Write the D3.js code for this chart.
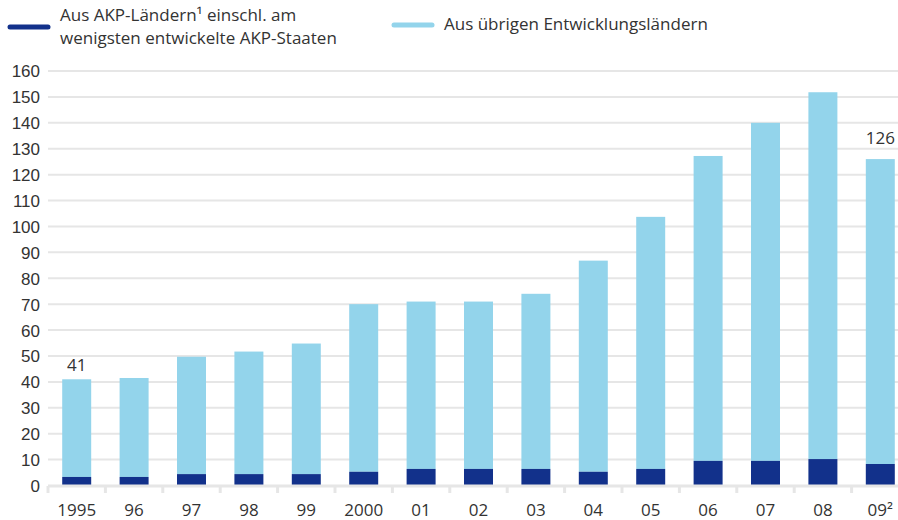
<!DOCTYPE html>
<html lang="de">
<head>
<meta charset="utf-8">
<script src="https://cdn.jsdelivr.net/npm/d3@7"></script>
<style>
  html, body { margin: 0; padding: 0; background: #fff; }
  svg { display: block; font-family: "Open Sans", "Noto Sans", sans-serif; }
</style>
</head>
<body>
<svg id="chart" width="898" height="520"></svg>
<script>
// Jahre (Achsenbeschriftung) und Werte
const years = ["1995", "96", "97", "98", "99", "2000", "01", "02", "03", "04", "05", "06", "07", "08", "09²"];
const akp = [3.3, 3.3, 4.4, 4.4, 4.4, 5.3, 6.4, 6.4, 6.4, 5.3, 6.4, 9.5, 9.5, 10.2, 8.3];
const totals = [41, 41.5, 49.7, 51.7, 54.8, 70, 71, 71, 74, 86.8, 103.7, 127.2, 140, 151.8, 126];
const yTicks = [0, 10, 20, 30, 40, 50, 60, 70, 80, 90, 100, 110, 120, 130, 140, 150, 160];
const labelled = [{ year: "1995", text: "41" }, { year: "09²", text: "126" }];
const seriesNames = ["Aus AKP-Ländern¹ einschl. am", "wenigsten entwickelte AKP-Staaten", "Aus übrigen Entwicklungsländern"];

const colors = { akp: "#12318b", others: "#93d4eb", grid: "#e6e6e6", text: "#333333" };
// Abstand der Wertbeschriftung über der Säule
const labelGap = { "1995": 8, "09²": 15 };

const svg = d3.select("#chart");
const n = years.length;
const step = 57.4;
const x0 = 48;

const x = d3.scaleBand()
  .domain(years)
  .range([x0, x0 + n * step])
  .paddingInner(0.495)
  .paddingOuter(0.2475);

const y = d3.scaleLinear().domain([0, 160]).range([485.5, 71]);

// Gitterlinien
svg.append("g")
  .selectAll("line")
  .data(yTicks.filter(v => v > 0))
  .join("line")
  .attr("x1", x0).attr("x2", 898)
  .attr("y1", d => y(d)).attr("y2", d => y(d))
  .attr("stroke", colors.grid).attr("stroke-width", 2);

// y-Achse
const yAxis = d3.axisLeft(y).tickValues(yTicks).tickSize(0).tickPadding(0);
const gy = svg.append("g").attr("transform", "translate(40,0)").call(yAxis);
gy.select(".domain").remove();
gy.selectAll("text")
  .attr("fill", colors.text)
  .style("font-size", "17px")
  .attr("dy", "0.35em");

// gestapelte Säulen
const stack = years.map((yr, i) => ({ yr, akp: akp[i], total: totals[i] }));
const gb = svg.append("g");
gb.selectAll("rect.others")
  .data(stack)
  .join("rect")
  .attr("class", "others")
  .attr("x", d => x(d.yr))
  .attr("width", x.bandwidth())
  .attr("y", d => y(d.total))
  .attr("height", d => y(d.akp) - y(d.total))
  .attr("fill", colors.others);
gb.selectAll("rect.akp")
  .data(stack)
  .join("rect")
  .attr("class", "akp")
  .attr("x", d => x(d.yr))
  .attr("width", x.bandwidth())
  .attr("y", d => y(d.akp))
  .attr("height", d => y(0) - y(d.akp))
  .attr("fill", colors.akp);

// x-Achse: Grundlinie mit Trennstrichen zwischen den Jahren
const gx = svg.append("g");
gx.append("line")
  .attr("x1", x0).attr("x2", 898)
  .attr("y1", 486).attr("y2", 486)
  .attr("stroke", colors.grid).attr("stroke-width", 3);
gx.selectAll("line.tick")
  .data(d3.range(n + 1))
  .join("line")
  .attr("class", "tick")
  .attr("x1", i => x0 + i * step).attr("x2", i => x0 + i * step)
  .attr("y1", 486).attr("y2", 493)
  .attr("stroke", colors.grid).attr("stroke-width", 3);

gx.selectAll("text.lbl")
  .data(years)
  .join("text")
  .attr("class", "lbl")
  .attr("x", d => x(d) + x.bandwidth() / 2)
  .attr("y", 516)
  .attr("text-anchor", "middle")
  .attr("fill", colors.text)
  .style("font-size", "17px")
  .text(d => d);

// Werte über ausgewählten Säulen
svg.append("g")
  .selectAll("text")
  .data(labelled)
  .join("text")
  .attr("x", d => x(d.year) + x.bandwidth() / 2)
  .attr("y", d => y(totals[years.indexOf(d.year)]) - labelGap[d.year])
  .attr("text-anchor", "middle")
  .attr("fill", colors.text)
  .style("font-size", "17px")
  .text(d => d.text);

// Legende
const lg = svg.append("g");
lg.append("line")
  .attr("x1", 10).attr("x2", 48).attr("y1", 27).attr("y2", 27)
  .attr("stroke", colors.akp).attr("stroke-width", 5).attr("stroke-linecap", "round");
lg.append("text")
  .attr("x", 60).attr("y", 21)
  .attr("fill", colors.text)
  .style("font-size", "17px")
  .text(seriesNames[0]);
lg.append("text")
  .attr("x", 60).attr("y", 44)
  .attr("fill", colors.text)
  .style("font-size", "17px")
  .text(seriesNames[1]);

lg.append("line")
  .attr("x1", 394).attr("x2", 432).attr("y1", 25).attr("y2", 25)
  .attr("stroke", colors.others).attr("stroke-width", 5).attr("stroke-linecap", "round");
lg.append("text")
  .attr("x", 444).attr("y", 30)
  .attr("fill", colors.text)
  .style("font-size", "17px")
  .text(seriesNames[2]);
</script>
</body>
</html>
